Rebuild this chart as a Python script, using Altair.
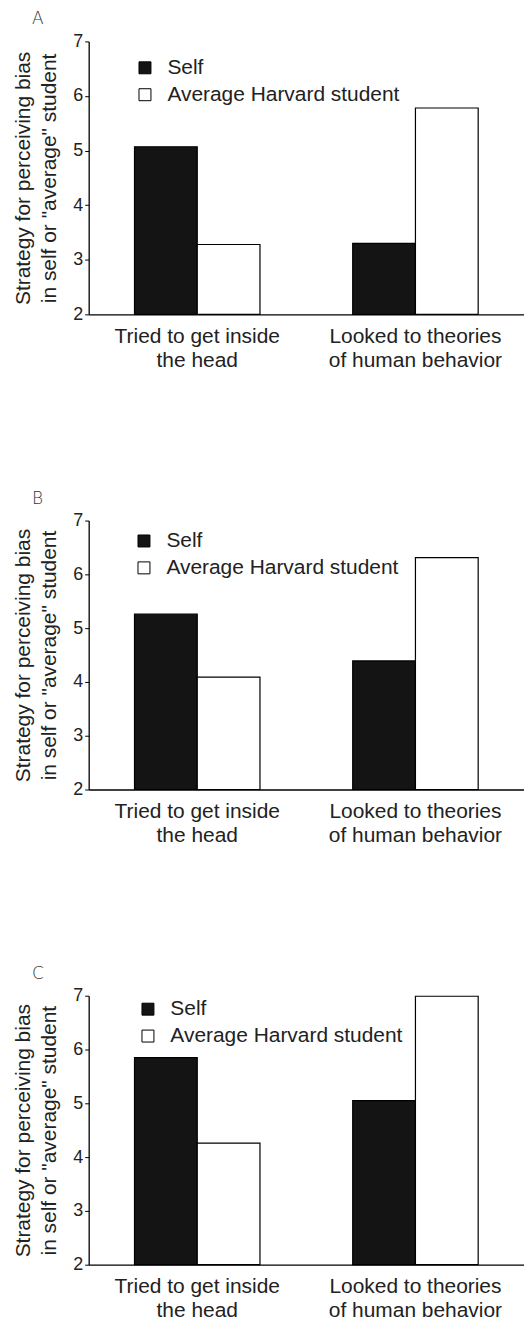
import altair as alt
import pandas as pd

categories = ["Tried to get inside|the head", "Looked to theories|of human behavior"]
series = ["Self", "Average Harvard student"]
y_ticks = [2, 3, 4, 5, 6, 7]
y_title = ["Strategy for perceiving bias", 'in self or "average" student']

self_A = [5.07, 3.30]
avg_A = [3.28, 5.78]
self_B = [5.26, 4.39]
avg_B = [4.09, 6.31]
self_C = [5.85, 5.05]
avg_C = [4.26, 6.99]

FONT = "Liberation Sans"
W = 437


def panel(letter, self_vals, avg_vals, h, lx, ly):
    rows = []
    for c, s, a in zip(categories, self_vals, avg_vals):
        rows.append({"category": c, "series": series[0], "value": s})
        rows.append({"category": c, "series": series[1], "value": a})
    df = pd.DataFrame(rows)
    title = alt.TitleParams(
        letter, anchor="start", frame="group", dx=-57, offset=4,
        fontSize=17, fontWeight=300, font="DejaVu Sans", color="#333",
    )
    return alt.Chart(df, title=title).mark_bar(
        stroke="black", strokeWidth=1.2
    ).encode(
        x=alt.X(
            "category:N", sort=categories,
            scale=alt.Scale(paddingInner=0.425, paddingOuter=0.21),
            axis=alt.Axis(
                title=None, labelAngle=0, labelExpr="split(datum.label, '|')",
                ticks=False, labelFontSize=21, labelLineHeight=24, labelPadding=11,
                labelColor="#222", labelFont=FONT, domainColor="black", domainWidth=1.3,
                labelLimit=300,
            ),
        ),
        xOffset=alt.XOffset("series:N", sort=series,
                            scale=alt.Scale(paddingInner=0, paddingOuter=0)),
        y=alt.Y(
            "value:Q",
            scale=alt.Scale(domain=[2, 7], nice=False, clamp=True, zero=False),
            axis=alt.Axis(
                values=y_ticks, title=y_title, grid=False,
                labelFontSize=18, labelFont=FONT, labelColor="#222", labelPadding=2,
                tickSize=4, tickColor="black", domainColor="black", domainWidth=1.3,
                titleFont=FONT, titleFontSize=21, titleFontWeight="normal", titleColor="#222",
                titleAngle=270, titleAlign="center", titleBaseline="top",
                titleX=-76, titleY=h / 2, titleLineHeight=26,
            ),
        ),
        color=alt.Color(
            "series:N", sort=series,
            scale=alt.Scale(domain=series, range=["#141414", "#ffffff"]),
            legend=alt.Legend(
                title=None, orient="none", legendX=lx, legendY=ly, padding=0,
                symbolType="square", symbolSize=144, symbolStrokeColor="black",
                symbolStrokeWidth=1, labelFontSize=21, labelFont=FONT, labelColor="#222",
                labelOffset=12, rowPadding=5, labelLimit=400,
            ),
        ),
    ).properties(width=W, height=h)


a = panel("A", self_A, avg_A, 274, 46, 16)
b = panel("B", self_B, avg_B, 270, 45, 10)
c = panel("C", self_C, avg_C, 270, 49, 3)

chart = alt.vconcat(a, b, c, spacing=120).resolve_scale(
    color="independent"
).resolve_legend(color="independent").properties(
    padding={"left": 5, "right": 0, "top": 0, "bottom": 0},
    background="white",
).configure_view(stroke=None)

chart.save("out.html", embed_options={"renderer": "svg", "actions": False})
